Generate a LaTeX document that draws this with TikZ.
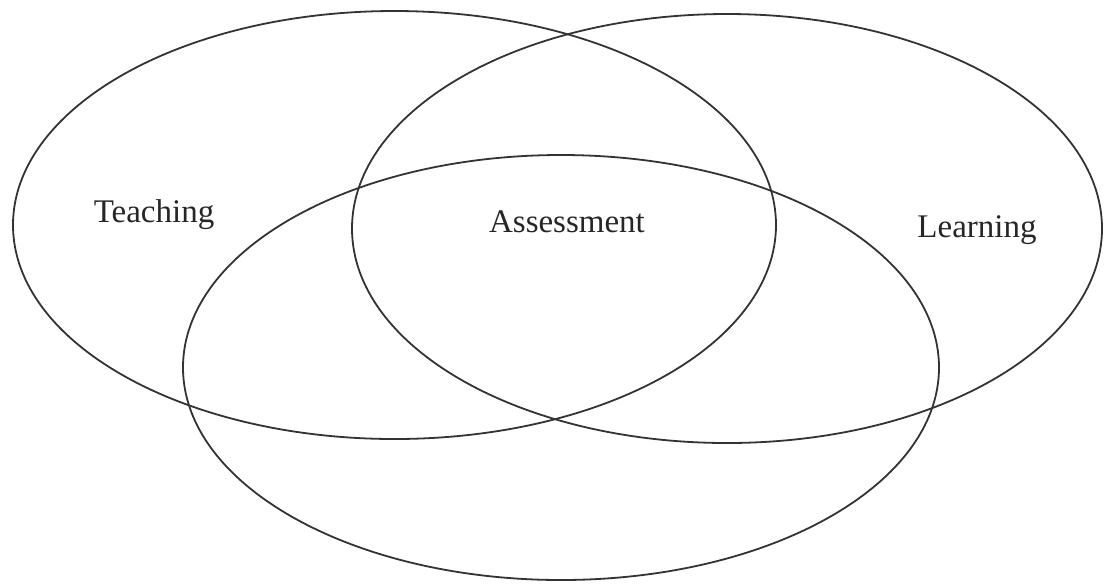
\documentclass[tikz,border=0pt]{standalone}
\usepackage{fontspec}
\setmainfont{Liberation Serif}

\begin{document}
\begin{tikzpicture}[x=0.5pt,y=0.5pt]
\tikzset{ring/.style={draw=black!80,line width=0.9pt},
  every node/.style={inner sep=0pt,anchor=base,text=black!85,font=\fontsize{16.5}{20}\selectfont}}
\useasboundingbox (0,0) rectangle (1104,-586);
\coordinate (teach) at (394.5,-225);
\coordinate (learn) at (727,-228.5);
\coordinate (assess) at (561,-367.5);
\draw [ring] (teach) ellipse [x radius=190.75pt, y radius=107pt];
\draw [ring] (learn) ellipse [x radius=187.5pt, y radius=107.25pt];
\draw [ring] (assess) ellipse [x radius=189pt, y radius=106.25pt];
\node (teachlbl) at (154,-222) {Teaching};
\node (assesslbl) at (567,-232) {Assessment};
\node (learnlbl) at (977,-237) {Learning};
\end{tikzpicture}
\end{document}
